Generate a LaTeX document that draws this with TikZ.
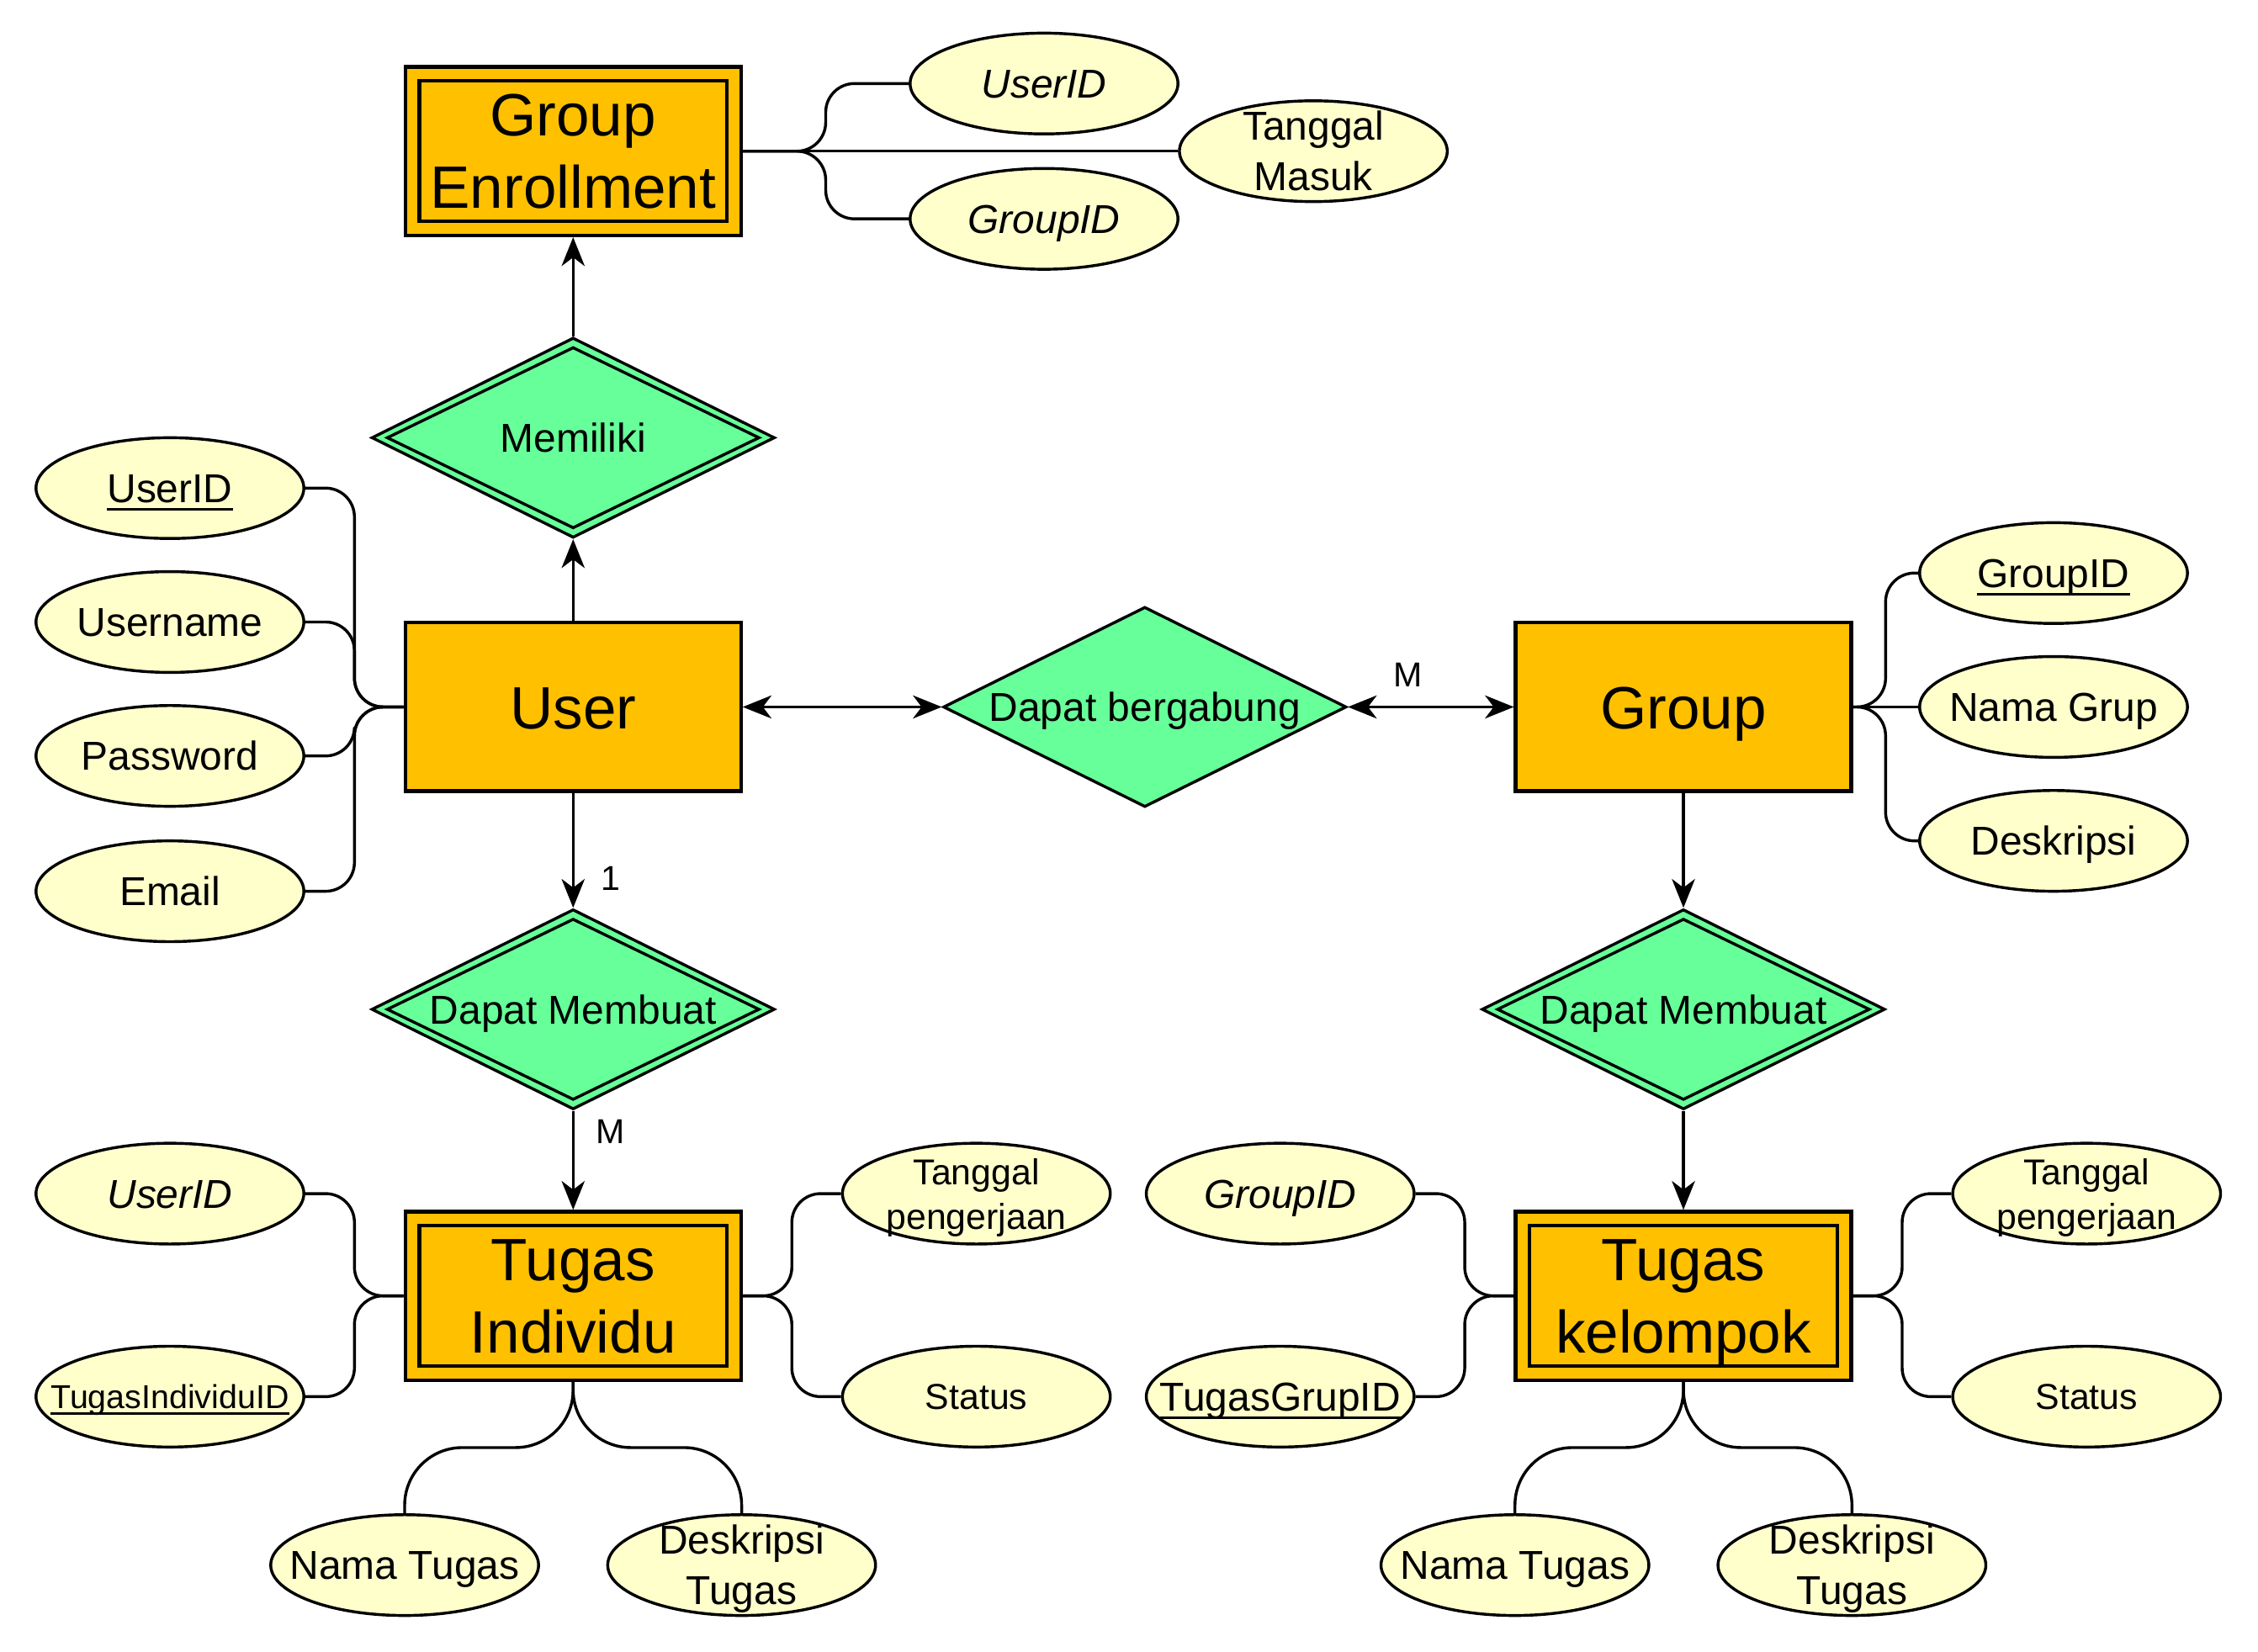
\documentclass[tikz,border=0pt]{standalone}
\usepackage{fontspec}
\setmainfont{Liberation Sans}
\usetikzlibrary{shapes.geometric,arrows.meta,calc}

\definecolor{entfill}{HTML}{FFC000}
\definecolor{relfill}{HTML}{66FF99}
\definecolor{attfill}{HTML}{FFFFCC}

% zero-size, visually centred label text (shape size comes from the style)
\newcommand\at[1]{\raisebox{-0.36em}[0pt][0pt]{\makebox[0pt]{#1}}}
\newcommand\two[2]{\at{\begin{tabular}{@{}c@{}}#1\\#2\end{tabular}}}
% key attribute underline
\newcommand\keyul[1]{\setbox0\hbox{#1}\rlap{\rule[-0.2em]{\wd0}{1pt}}\box0}

\tikzset{
  ent/.style={rectangle, draw, line width=1.25pt, fill=entfill,
    minimum width=116.5pt, minimum height=58.5pt, inner sep=0pt,
    font=\fontsize{20.75}{25}\selectfont},
  rel/.style={diamond, draw, line width=1pt, fill=relfill,
    minimum width=140pt, minimum height=69.5pt, inner sep=0pt,
    font=\fontsize{14}{17.5}\selectfont},
  attr/.style={ellipse, draw, line width=1pt, fill=attfill,
    minimum width=93pt, minimum height=35pt, inner sep=0pt,
    font=\fontsize{14}{17.5}\selectfont},
  sattr/.style={attr, font=\fontsize{12.5}{15.6}\selectfont},
  card/.style={font=\fontsize{12}{14}\selectfont, inner sep=1pt},
  link/.style={line width=1pt, rounded corners=10pt},
  dlink/.style={line width=1pt, rounded corners=20pt},
  tip/.tip={Stealth[length=10pt,width=8pt,inset=3pt]},
  arr/.style={line width=1pt, -tip},
  biarr/.style={line width=1pt, tip-tip}
}

% inner outline of a weak entity / identifying relationship
\newcommand\innerrect[1]{\draw[line width=1.25pt] ([shift={(11,11)}]#1.north west) rectangle ([shift={(-11,-11)}]#1.south east);}
\newcommand\innerdia[1]{\draw[line width=1pt] ($(#1.north)+(0,8)$) -- ($(#1.east)+(-12,0)$) -- ($(#1.south)+(0,-8)$) -- ($(#1.west)+(12,0)$) -- cycle;}

\begin{document}
\begin{tikzpicture}[x=0.5pt,y=-0.5pt]
\fill[white] (0,0) rectangle (1568,1147);
\useasboundingbox (0,0) rectangle (1568,1147);

% entities
\node[ent] (ge)   at (398,105) {\two{Group}{Enrollment}};
\node[ent] (user) at (398,491) {\at{User}};
\node[ent] (grp)  at (1169,491) {\at{Group}};
\node[ent] (ti)   at (398,900) {\two{Tugas}{Individu}};
\node[ent] (tk)   at (1169,900) {\two{Tugas}{kelompok}};
\innerrect{ge}
\innerrect{ti}
\innerrect{tk}

% relationships
\node[rel] (mem) at (398,304) {\at{Memiliki}};
\node[rel] (db)  at (795,491) {\at{Dapat bergabung}};
\node[rel] (dm1) at (398,701) {\at{Dapat Membuat}};
\node[rel] (dm2) at (1169,701) {\at{Dapat Membuat}};
\innerdia{mem}
\innerdia{dm1}
\innerdia{dm2}

% attributes of Group Enrollment
\node[attr] (geuid) at (725,58)  {\at{\textit{UserID}}};
\node[attr] (getm)  at (912,105) {\two{Tanggal}{Masuk}};
\node[attr] (gegid) at (725,152) {\at{\textit{GroupID}}};

% attributes of User
\node[attr] (uuid) at (118,339) {\at{\keyul{UserID}}};
\node[attr] (uun)  at (118,432) {\at{Username}};
\node[attr] (upw)  at (118,525) {\at{Password}};
\node[attr] (uem)  at (118,619) {\at{Email}};

% attributes of Group
\node[attr] (ggid) at (1426,398) {\at{\keyul{GroupID}}};
\node[attr] (gnm)  at (1426,491) {\at{Nama Grup}};
\node[attr] (gds)  at (1426,584) {\at{Deskripsi}};

% attributes of Tugas Individu
\node[attr]  (tiuid) at (118,829) {\at{\textit{UserID}}};
\node[attr, font=\fontsize{11.5}{14}\selectfont] (tiid) at (118,970) {\at{\keyul{TugasIndividuID}}};
\node[sattr] (titp)  at (678,829) {\two{Tanggal}{pengerjaan}};
\node[sattr] (tist)  at (678,970) {\at{Status}};
\node[attr]  (tinm)  at (281,1087) {\at{Nama Tugas}};
\node[attr]  (tids)  at (515,1087) {\two{Deskripsi}{Tugas}};

% attributes of Tugas kelompok
\node[attr]  (tkgid) at (889,829) {\at{\textit{GroupID}}};
\node[attr]  (tkid)  at (889,970) {\at{\keyul{TugasGrupID}}};
\node[sattr] (tktp)  at (1449,829) {\two{Tanggal}{pengerjaan}};
\node[sattr] (tkst)  at (1449,970) {\at{Status}};
\node[attr]  (tknm)  at (1052,1087) {\at{Nama Tugas}};
\node[attr]  (tkds)  at (1286,1087) {\two{Deskripsi}{Tugas}};

% relationship connectors
\draw[arr] (user.north) -- (mem.south);
\draw[arr] (mem.north) -- (ge.south);
\draw[biarr] (user.east) -- (db.west);
\draw[biarr] (db.east) -- (grp.west);
\draw[arr] (user.south) -- (dm1.north);
\draw[arr] (dm1.south) -- (ti.north);
\draw[arr] (grp.south) -- (dm2.north);
\draw[arr] (dm2.south) -- (tk.north);

% cardinalities
\node[card] (c1) at (424,610) {1};
\node[card] (c2) at (424,786) {M};
\node[card] (c3) at (978,469) {M};

% attribute links, sideways
\foreach \e/\a in {ge/geuid, ge/gegid, grp/ggid, grp/gds, ti/titp, ti/tist, tk/tktp, tk/tkst}{
  \coordinate (mid) at ($(\e.east)!0.5!(\a.west)$);
  \draw[link] (\e.east) -| (mid |- \a.west) -- (\a.west);
}
\foreach \e/\a in {user/uuid, user/uun, user/upw, user/uem, ti/tiuid, ti/tiid, tk/tkgid, tk/tkid}{
  \coordinate (mid) at ($(\e.west)!0.5!(\a.east)$);
  \draw[link] (\e.west) -| (mid |- \a.east) -- (\a.east);
}
\draw[link] (ge.east) -- (getm.west);
\draw[link] (grp.east) -- (gnm.west);

% attribute links, downwards
\foreach \e/\a in {ti/tinm, ti/tids, tk/tknm, tk/tkds}{
  \coordinate (mid) at ($(\e.south)!0.5!(\a.north)$);
  \draw[dlink] (\e.south) |- (mid -| \a.north) -- (\a.north);
}
\end{tikzpicture}
\end{document}
